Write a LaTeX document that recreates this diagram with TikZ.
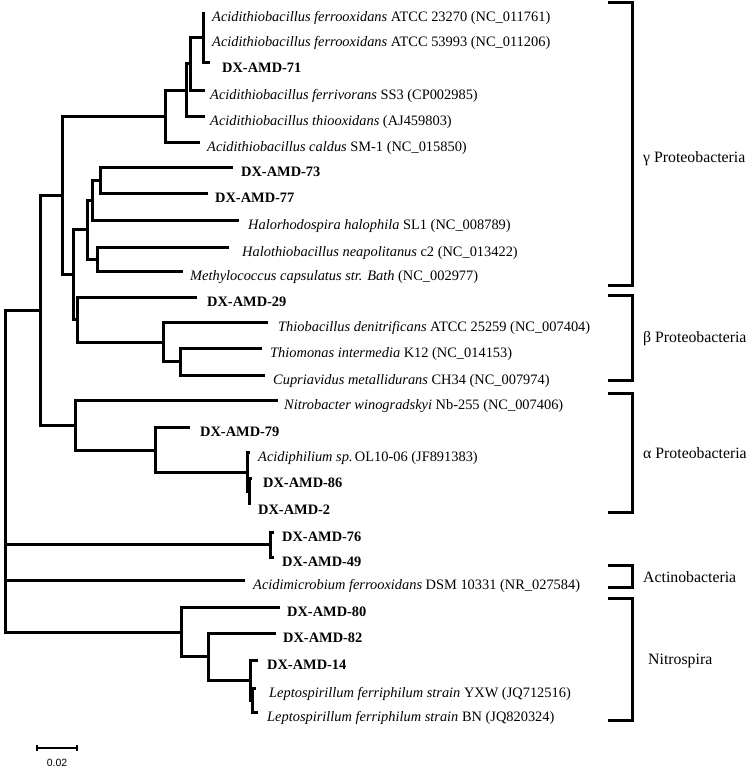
\documentclass[tikz,border=0pt]{standalone}
\usepackage{fontspec}
\setmainfont{Liberation Serif}
\newfontfamily\scalefont{Liberation Sans}
\newcommand\lf[5]{%
  \coordinate (#1) at (#2,#3);
  \node[lbl] (#1t) at (#4,#3+9.5) {#5};}
\begin{document}
\begin{tikzpicture}[x=1pt,y=-1pt,
  br/.style={line width=3pt,line join=miter},
  bk/.style={line width=3pt,line join=miter},
  lbl/.style={anchor=base west,inner sep=0pt,font=\fontsize{14.4}{16}\selectfont},
  grp/.style={anchor=base west,inner sep=0pt,font=\fontsize{15.8}{18}\selectfont}]
\useasboundingbox (0,0) rectangle (750,768);
% leaves
\lf{L1}{203}{12}{212}{\textit{Acidithiobacillus ferrooxidans} ATCC 23270 (NC\_011761)}
\lf{L2}{203}{37}{212}{\textit{Acidithiobacillus ferrooxidans} ATCC 53993 (NC\_011206)}
\lf{L3}{210}{63}{222}{\textbf{DX-AMD-71}}
\lf{L4}{205}{90}{210}{\textit{Acidithiobacillus ferrivorans} SS3 (CP002985)}
\lf{L5}{205}{116}{210}{\textit{Acidithiobacillus thiooxidans} (AJ459803)}
\lf{L6}{200}{142}{207}{\textit{Acidithiobacillus caldus} SM-1 (NC\_015850)}
\lf{L7}{233}{167}{241}{\textbf{DX-AMD-73}}
\lf{L8}{208}{193}{215}{\textbf{DX-AMD-77}}
\lf{L9}{239}{220}{248}{\textit{Halorhodospira halophila} SL1 (NC\_008789)}
\lf{L10}{229}{247}{242}{\textit{Halothiobacillus neapolitanus} c2 (NC\_013422)}
\lf{L11}{183}{271}{190}{\textit{Methylococcus capsulatus str. Bath} (NC\_002977)}
\lf{L12}{197}{297}{207}{\textbf{DX-AMD-29}}
\lf{L13}{268}{322}{278}{\textit{Thiobacillus denitrificans} ATCC 25259 (NC\_007404)}
\lf{L14}{262}{348}{270}{\textit{Thiomonas intermedia} K12 (NC\_014153)}
\lf{L15}{265}{375}{273}{\textit{Cupriavidus metallidurans} CH34 (NC\_007974)}
\lf{L16}{278}{400}{284}{\textit{Nitrobacter winogradskyi} Nb-255 (NC\_007406)}
\lf{L17}{190}{427}{200}{\textbf{DX-AMD-79}}
\lf{L18}{250}{452}{258}{\textit{Acidiphilium sp.}\,OL10-06 (JF891383)}
\lf{L19}{252}{478}{263}{\textbf{DX-AMD-86}}
\lf{L20}{249}{505}{258}{\textbf{DX-AMD-2}}
\lf{L21}{274}{532}{282}{\textbf{DX-AMD-76}}
\lf{L22}{274}{557}{282}{\textbf{DX-AMD-49}}
\lf{L23}{245}{580}{253}{\textit{Acidimicrobium ferrooxidans} DSM 10331 (NR\_027584)}
\lf{L24}{280}{607}{287}{\textbf{DX-AMD-80}}
\lf{L25}{276}{633}{283}{\textbf{DX-AMD-82}}
\lf{L26}{258}{660}{267}{\textbf{DX-AMD-14}}
\lf{L27}{256}{688}{269}{\textit{Leptospirillum ferriphilum strain} YXW (JQ712516)}
\lf{L28}{258}{712}{267}{\textit{Leptospirillum ferriphilum strain} BN (JQ820324)}
% internal nodes
\coordinate (nA) at (203,37.5);
\coordinate (nB) at (190,64);
\coordinate (nC) at (186,90);
\coordinate (nD) at (165,116);
\coordinate (nG) at (100,180);
\coordinate (nH) at (92,200);
\coordinate (nI) at (97,259);
\coordinate (nJ) at (87,229.5);
\coordinate (nK) at (180,361.5);
\coordinate (nL) at (163,342);
\coordinate (nM) at (77,319.5);
\coordinate (nF) at (73,274.5);
\coordinate (nE) at (62,195);
\coordinate (nN) at (40,310);
\coordinate (nO) at (75,425);
\coordinate (nQ) at (155,450);
\coordinate (nP) at (247,472);
\coordinate (nP2) at (249,491.5);
\coordinate (nR) at (270,544.5);
\coordinate (nS2) at (252,700);
\coordinate (nS) at (250,680);
\coordinate (nT) at (208,656.5);
\coordinate (nU) at (181,632);
\coordinate (root) at (5,471);
% edges
\draw[br] (nA) |- (L1);  \draw[br] (nA) |- (L2);  \draw[br] (nA) |- (L3);
\draw[br] (nB) |- (nA);  \draw[br] (nB) |- (L4);
\draw[br] (nC) |- (nB);  \draw[br] (nC) |- (L5);
\draw[br] (nD) |- (nC);  \draw[br] (nD) |- (L6);
\draw[br] (nG) |- (L7);  \draw[br] (nG) |- (L8);
\draw[br] (nH) |- (nG);  \draw[br] (nH) |- (L9);
\draw[br] (nI) |- (L10); \draw[br] (nI) |- (L11);
\draw[br] (nJ) |- (nH);  \draw[br] (nJ) |- (nI);
\draw[br] (nK) |- (L14); \draw[br] (nK) |- (L15);
\draw[br] (nL) |- (L13); \draw[br] (nL) |- (nK);
\draw[br] (nM) |- (L12); \draw[br] (nM) |- (nL);
\draw[br] (nF) |- (nJ);  \draw[br] (nF) |- (nM);
\draw[br] (nE) |- (nD);  \draw[br] (nE) |- (nF);
\draw[br] (nN) |- (nE);  \draw[br] (nN) |- (nO);
\draw[br] (nO) |- (L16); \draw[br] (nO) |- (nQ);
\draw[br] (nQ) |- (L17); \draw[br] (nQ) |- (nP);
\draw[br] (nP) |- (L18); \draw[br] (nP) |- (nP2);
\draw[br] (nP2) |- (L19); \draw[br] (nP2) |- (L20);
\draw[br] (nR) |- (L21); \draw[br] (nR) |- (L22);
\draw[br] (nS2) |- (L27); \draw[br] (nS2) |- (L28);
\draw[br] (nS) |- (L26); \draw[br] (nS) |- (nS2);
\draw[br] (nT) |- (L25); \draw[br] (nT) |- (nS);
\draw[br] (nU) |- (L24); \draw[br] (nU) |- (nT);
\draw[br] (root) |- (nN); \draw[br] (root) |- (nR);
\draw[br] (root) |- (L23); \draw[br] (root) |- (nU);
% group brackets
\draw[bk] (608,3) -- (632,3) -- (632,285) -- (608,285);
\draw[bk] (608,295) -- (632,295) -- (632,380) -- (608,380);
\draw[bk] (608,393) -- (632,393) -- (632,512) -- (608,512);
\draw[bk] (608,565) -- (632,565) -- (632,587) -- (608,587);
\draw[bk] (608,598) -- (632,598) -- (632,720) -- (608,720);
\node[grp] (gG) at (643,162) {γ Proteobacteria};
\node[grp] (gB) at (643,342) {β Proteobacteria};
\node[grp] (gA) at (643,458) {α Proteobacteria};
\node[grp] (gAc) at (643,582) {Actinobacteria};
\node[grp] (gN) at (648,664) {Nitrospira};
% scale bar
\coordinate (sbL) at (37,748);
\coordinate (sbR) at (77,748);
\draw[line width=1.6pt] (sbL) -- (sbR);
\draw[line width=1.4pt] ([yshift=-3pt]sbL) -- ([yshift=3pt]sbL);
\draw[line width=1.4pt] ([yshift=-3pt]sbR) -- ([yshift=3pt]sbR);
\node[font=\scalefont\fontsize{10.5}{12}\selectfont,inner sep=0pt] (sbT) at (57,763) {0.02};
\end{tikzpicture}
\end{document}
